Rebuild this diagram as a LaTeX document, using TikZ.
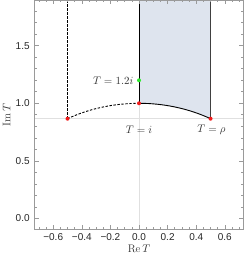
\documentclass[tikz,border=0pt]{standalone}
\usepackage{fontspec}
\newfontfamily\ticksf{Liberation Sans}
\usetikzlibrary{positioning}
\definecolor{fund}{HTML}{DEE4EE}
\definecolor{framegray}{HTML}{9A9A9A}
\definecolor{ptred}{HTML}{F21C1C}
\definecolor{ptgreen}{HTML}{2EEB2E}

\begin{document}
\begin{tikzpicture}[x=143pt, y=115pt,
    frm/.style={draw=framegray, line width=0.6pt},
    gridln/.style={draw=black!12, line width=0.7pt},
    bnd/.style={line width=0.9pt},
    dsh/.style={bnd, dash pattern=on 2.4pt off 1.6pt},
    pt/.style={circle, inner sep=0pt, minimum size=4pt},
    tk/.style={font=\ticksf\fontsize{10}{11}\selectfont, text=black!85},
    lbl/.style={font=\fontsize{11}{12}\selectfont, text=black!80},
]
\useasboundingbox (-0.972,-0.371) rectangle (0.741,1.898);

% fundamental domain
\fill[fund] (0,1) arc[start angle=90, end angle=60, radius=1] -- (0.5,1.895) -- (0,1.895) -- cycle;

% grid lines
\draw[gridln] (0,-0.095) -- (0,1.895);
\draw[gridln] (-0.73,{sqrt(3)/2}) -- (0.73,{sqrt(3)/2});

% special points
\coordinate (rhoL) at (-0.5,{sqrt(3)/2});
\coordinate (ipt) at (0,1);
\coordinate (rho) at (0.5,{sqrt(3)/2});
\coordinate (gpt) at (0,1.2);
\coordinate (topL) at (-0.5,1.895);
\coordinate (topM) at (0,1.895);
\coordinate (topR) at (0.5,1.895);

% boundaries
\draw[dsh] (rhoL) arc[start angle=120, end angle=90, radius=1];
\draw[bnd] (ipt) arc[start angle=90, end angle=60, radius=1];
\draw[dsh] (rhoL) -- (topL);
\draw[bnd] (ipt) -- (topM);
\draw[bnd, black!75, line width=1.2pt] (rho) -- (topR);

% frame and ticks
\draw[frm] (-0.73,-0.095) rectangle (0.73,1.895);
\foreach \i in {-14,...,14} {
  \draw[frm] (\i/20,-0.095) -- ++(0,2pt);
  \draw[frm] (\i/20,1.895) -- ++(0,-2pt);
}
\foreach \i in {-3,...,3} {
  \draw[frm] (\i/5,-0.095) -- ++(0,4pt);
  \draw[frm] (\i/5,1.895) -- ++(0,-4pt);
}
\foreach \i in {0,...,18} {
  \draw[frm] (-0.73,\i/10) -- ++(2pt,0);
  \draw[frm] (0.73,\i/10) -- ++(-2pt,0);
}
\foreach \i in {0,...,3} {
  \draw[frm] (-0.73,\i/2) -- ++(4pt,0);
  \draw[frm] (0.73,\i/2) -- ++(-4pt,0);
}
\foreach \x/\t in {-0.6/−0.6,-0.4/−0.4,-0.2/−0.2,0/0.0,0.2/0.2,0.4/0.4,0.6/0.6}
  \node[tk, anchor=north] (xt\x) at (\x,-0.105) {\t};
\foreach \y/\t in {0/0.0,0.5/0.5,1/1.0,1.5/1.5}
  \node[tk, anchor=east] (yt\y) at (-0.74,\y) {\t};

% axis labels
\node[lbl] (xlab) at (0,-0.267) {$\mathrm{Re}\,T$};
\node[lbl, rotate=90] (ylab) at (-0.925,0.9) {$\mathrm{Im}\,T$};

% markers
\node[pt, fill=ptred] (p1) at (rhoL) {};
\node[pt, fill=ptred] (p2) at (ipt) {};
\node[pt, fill=ptred] (p3) at (rho) {};
\node[pt, fill=ptgreen] (p4) at (gpt) {};

\node[lbl, left=0pt of p4] (lg) {$T=1.2i$};
\node[lbl] (li) at (0,0.772) {$T=i$};
\node[lbl] (lr) at (0.507,0.772) {$T=\rho$};

\end{tikzpicture}
\end{document}
